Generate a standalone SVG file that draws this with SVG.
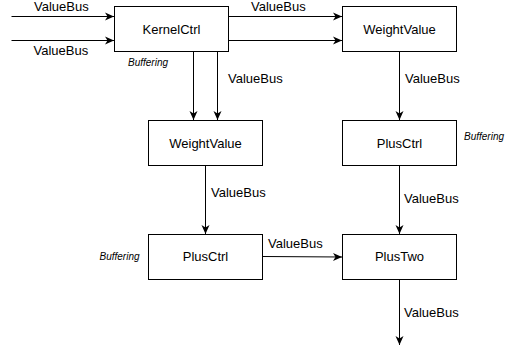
<svg xmlns="http://www.w3.org/2000/svg" width="505" height="346" viewBox="0 0 505 346">
  <style>
    .box { fill: #ffffff; stroke: #000000; stroke-width: 1; }
    .lbl { font-family: "Liberation Sans", Arial, sans-serif; font-size: 13px; fill: #000000; }
    .mid { text-anchor: middle; }
    .note { font-family: "Liberation Sans", Arial, sans-serif; font-size: 10px; font-style: italic; fill: #000000; }
    .wire { fill: none; stroke: #000000; stroke-width: 1; marker-end: url(#arrow); }
  </style>
  <defs>
    <marker id="arrow" markerUnits="userSpaceOnUse" markerWidth="10" markerHeight="10" refX="9" refY="4.5" orient="auto">
      <path d="M0,0.5 L9,4.5 L0,8.5 L2.5,4.5 Z" fill="#000000"/>
    </marker>
  </defs>

  <g id="connectors">
    <path class="wire" d="M11.5,16.5 H114"/>
    <path class="wire" d="M11.5,40.5 H114"/>
    <path class="wire" d="M229,16.5 H342"/>
    <path class="wire" d="M229,40.5 H342"/>
    <path class="wire" d="M193.5,52 V120"/>
    <path class="wire" d="M217.5,52 V120"/>
    <path class="wire" d="M399.5,52 V120"/>
    <path class="wire" d="M205.5,165 V234"/>
    <path class="wire" d="M399.5,165 V234"/>
    <path class="wire" d="M263,256.5 L342,257"/>
    <path class="wire" d="M399.5,280 V345"/>
  </g>

  <g id="edge-labels">
    <text class="lbl" x="34" y="10.5">ValueBus</text>
    <text class="lbl" x="33.5" y="55">ValueBus</text>
    <text class="lbl" x="251" y="10.5">ValueBus</text>
    <text class="lbl" x="228" y="83">ValueBus</text>
    <text class="lbl" x="405" y="83">ValueBus</text>
    <text class="lbl" x="211" y="197">ValueBus</text>
    <text class="lbl" x="404" y="203">ValueBus</text>
    <text class="lbl" x="268" y="248">ValueBus</text>
    <text class="lbl" x="404" y="317">ValueBus</text>
  </g>

  <g id="notes">
    <text class="note" x="128" y="66">Buffering</text>
    <text class="note" x="464" y="140">Buffering</text>
    <text class="note" x="99.5" y="260">Buffering</text>
  </g>

  <g id="kernelctrl">
    <rect class="box" x="114.5" y="6.5" width="114" height="45"/>
    <text class="lbl mid" x="171.5" y="33.5">KernelCtrl</text>
  </g>
  <g id="weightvalue-top">
    <rect class="box" x="342.5" y="6.5" width="114" height="45"/>
    <text class="lbl mid" x="399.5" y="33.5">WeightValue</text>
  </g>
  <g id="weightvalue-mid">
    <rect class="box" x="148.5" y="120.5" width="114" height="45"/>
    <text class="lbl mid" x="205.5" y="147.5">WeightValue</text>
  </g>
  <g id="plusctrl-right">
    <rect class="box" x="342.5" y="120.5" width="114" height="45"/>
    <text class="lbl mid" x="399.5" y="147.5">PlusCtrl</text>
  </g>
  <g id="plusctrl-left">
    <rect class="box" x="148.5" y="234.5" width="114" height="45"/>
    <text class="lbl mid" x="205.5" y="261">PlusCtrl</text>
  </g>
  <g id="plustwo">
    <rect class="box" x="342.5" y="234.5" width="114" height="45"/>
    <text class="lbl mid" x="399.5" y="261">PlusTwo</text>
  </g>
</svg>
